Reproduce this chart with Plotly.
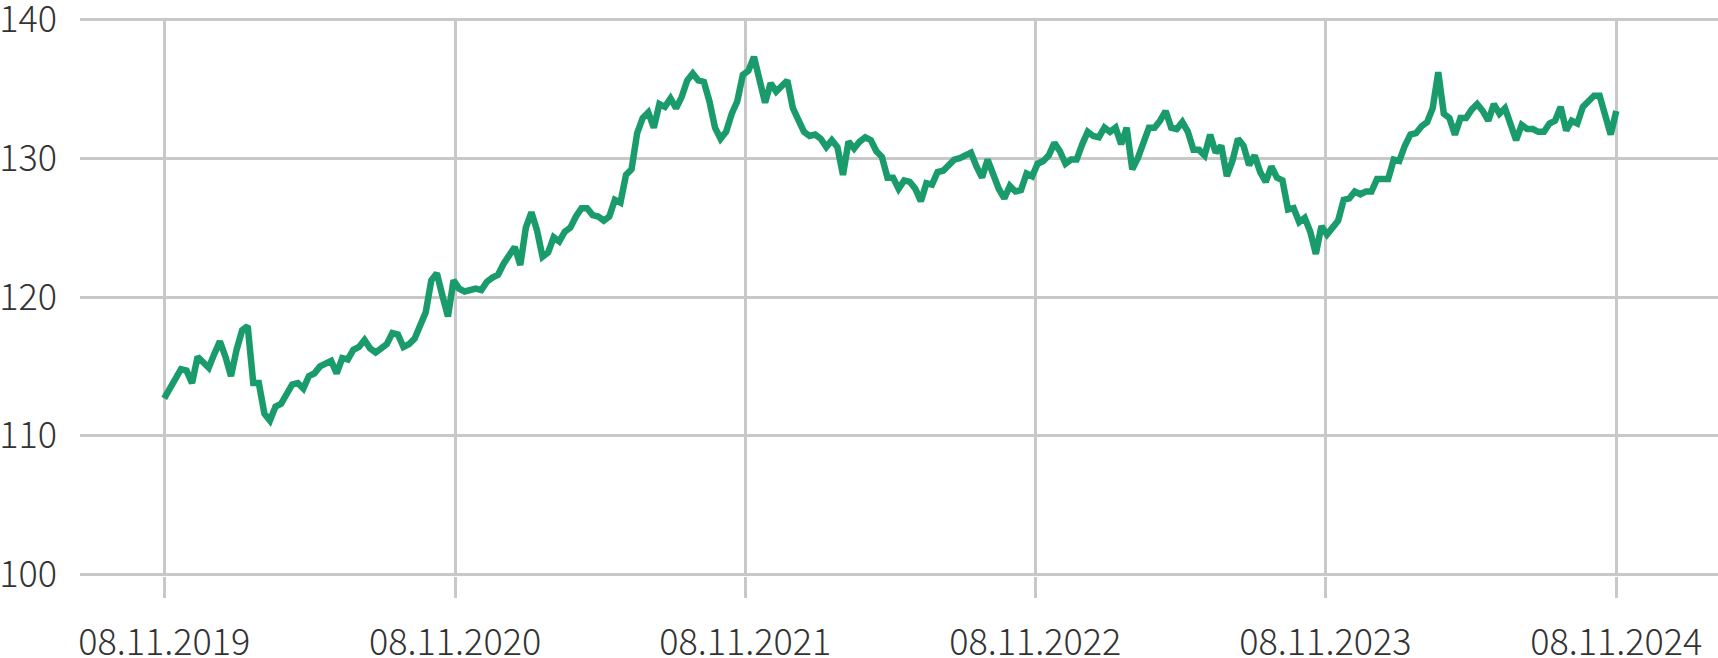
import pandas as pd
import plotly.graph_objects as go

# Weekly values (Fridays), 08.11.2019 .. 08.11.2024
values_y1 = [112.7, 113.4, 113.9, 114.8, 114.7, 113.8, 115.7, 115.3, 114.9, 115.9,
             116.8, 115.7, 114.3, 116.2, 117.6, 117.9, 113.8, 113.8, 111.6, 111.1,
             112.1, 112.3, 112.9, 113.7, 113.8, 113.4, 114.3, 114.5, 115.0, 115.2,
             115.4, 114.5, 115.6, 115.5, 116.2, 116.4, 116.9, 116.3, 116.0, 116.3,
             116.6, 117.4, 117.3, 116.4, 116.6, 117.0, 118.1, 118.9, 121.2, 121.7,
             120.1, 118.6, 121.2]
values_y2 = [120.6, 120.4, 120.5, 120.6, 120.5, 121.1, 121.4, 121.6, 122.4, 123.0,
             123.6, 122.3, 125.0, 126.1, 124.8, 122.9, 123.2, 124.3, 124.0, 124.7,
             125.0, 125.8, 126.4, 126.4, 125.9, 125.8, 125.5, 125.8, 127.0, 126.8,
             128.8, 129.2, 131.8, 132.9, 133.3, 132.2, 133.9, 133.7, 134.3, 133.6,
             134.4, 135.6, 136.1, 135.6, 135.5, 134.1, 132.2, 131.4, 131.9, 133.2,
             134.1, 136.0]
values_y3 = [136.3, 137.3, 135.5, 134.0, 135.4, 134.8, 135.2, 135.6, 133.6, 132.6,
             131.9, 131.6, 131.7, 131.4, 130.8, 131.3, 130.8, 128.8, 131.2, 130.7,
             131.2, 131.5, 131.3, 130.5, 130.1, 128.6, 128.6, 127.8, 128.4, 128.3,
             127.8, 126.9, 128.2, 128.1, 129.0, 129.1, 129.5, 129.9, 130.0, 130.2,
             130.4, 129.4, 128.6, 129.9, 128.8, 127.8, 127.1, 128.0, 127.6, 127.7,
             128.9, 128.7]
values_y4 = [129.6, 129.8, 130.2, 131.1, 130.5, 129.6, 129.9, 129.9, 131.0, 131.9,
             131.6, 131.5, 132.2, 131.9, 132.2, 131.0, 132.2, 129.2, 130.0, 131.2,
             132.2, 132.2, 132.7, 133.4, 132.2, 132.1, 132.6, 131.9, 130.6, 130.6,
             130.2, 131.7, 130.4, 130.9, 128.7, 129.8, 131.4, 130.9, 129.5, 130.2,
             129.0, 128.3, 129.4, 128.6, 128.4, 126.3, 126.4, 125.4, 125.7, 124.7,
             123.1, 125.1]
values_y5 = [124.5, 125.0, 125.5, 127.0, 127.1, 127.6, 127.4, 127.6, 127.6, 128.5,
             128.5, 128.5, 129.9, 129.8, 130.9, 131.7, 131.8, 132.3, 132.6, 133.6,
             136.2, 133.2, 132.9, 131.7, 132.9, 132.9, 133.5, 133.9, 133.4, 132.7,
             133.9, 133.2, 133.6, 132.5, 131.3, 132.4, 132.1, 132.1, 131.9, 131.9,
             132.5, 132.7, 133.7, 132.0, 132.7, 132.5, 133.7, 134.1, 134.5, 134.5,
             133.1, 131.7, 133.4]

values = values_y1 + values_y2 + values_y3 + values_y4 + values_y5
dates = pd.date_range("2019-11-08", periods=len(values), freq="7D")

tick_dates = ["2019-11-08", "2020-11-08", "2021-11-08", "2022-11-08", "2023-11-08", "2024-11-08"]
tick_labels = ["08.11.2019", "08.11.2020", "08.11.2021", "08.11.2022", "08.11.2023", "08.11.2024"]
y_ticks = [100, 110, 120, 130, 140]

FONT = "Noto Sans CJK SC"
GRID = "#c8c8c8"
TXT = "#333333"

fig = go.Figure()
fig.add_trace(go.Scatter(
    x=dates, y=values, mode="lines",
    line=dict(color="#1a9b6c", width=6.5),
    hoverinfo="skip",
))

fig.update_layout(
    width=1718, height=658,
    margin=dict(l=80, r=0, t=17.6, b=81.6),
    paper_bgcolor="white", plot_bgcolor="white",
    showlegend=False,
    font=dict(family=FONT, size=36, color=TXT),
)
fig.update_xaxes(
    range=["2019-07-25", "2025-03-16"],
    tickvals=tick_dates, ticktext=tick_labels,
    showgrid=True, gridcolor=GRID, gridwidth=2.5,
    ticks="outside", ticklen=21, tickwidth=2.5, tickcolor=GRID,
    showline=False, zeroline=False, automargin=False,
    ticklabeloverflow="allow", ticklabelstandoff=14,
    tickfont=dict(family=FONT, size=36, color=TXT, weight=300),
)
fig.update_yaxes(
    range=[99.9, 140.1],
    tickvals=y_ticks,
    showgrid=True, gridcolor=GRID, gridwidth=2.5,
    showline=False, zeroline=False, ticks="", automargin=False,
    ticklabeloverflow="allow", ticklabelstandoff=22,
    tickfont=dict(family=FONT, size=36, color=TXT, weight=300),
)

fig.write_html("out.html", config={"displayModeBar": False},
               post_script="document.body.style.margin='0px';")
